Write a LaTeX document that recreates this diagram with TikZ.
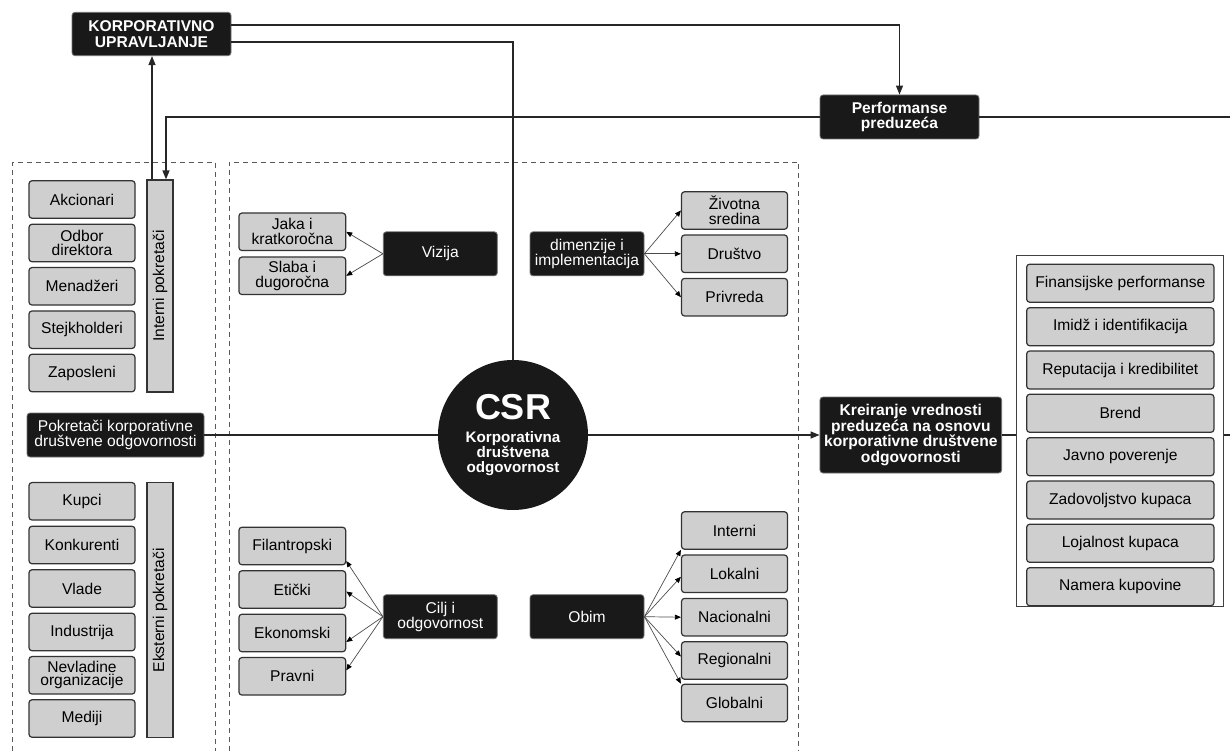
\documentclass[tikz,border=0pt]{standalone}
\usepackage{fontspec}
\usepackage{graphicx}
\setmainfont{Liberation Sans}
\usetikzlibrary{arrows.meta}

\begin{document}
\begin{tikzpicture}[
  x=1pt, y=-1pt,
  font=\fontsize{15.6}{14.8}\selectfont,
  gry/.style={rectangle, rounded corners=3pt, draw=black!80, line width=1.2pt, fill=black!19,
              minimum width=106pt, minimum height=37.5pt, inner sep=0pt, align=center},
  blk/.style={rectangle, rounded corners=3pt, draw=black!55, line width=0.8pt, fill=black!90,
              text=white, minimum width=114pt, minimum height=44pt, inner sep=0pt, align=center},
  hdr/.style={blk, font=\bfseries\fontsize{15.6}{15.7}\selectfont},
  bar/.style={rectangle, draw=black!80, line width=1.2pt, fill=black!19, minimum width=26pt, inner sep=0pt},
  grp/.style={draw=black!65, line width=0.8pt, dash pattern=on 5pt off 4pt},
  con/.style={draw=black!85, line width=1.3pt},
  arr/.style={con, -{Triangle[length=9pt,width=7pt]}},
  brn/.style={draw=black!70, line width=0.7pt, -{Triangle[length=6pt,width=5pt,color=black]}}
]
\useasboundingbox (0,0) rectangle (1230,751);

\draw[grp] (12.7,751) -- (12.7,162) -- (215,162) -- (215,751);
\draw[grp] (229,751) -- (229,162) -- (798.5,162) -- (798.5,751);

\node[hdr, minimum width=159pt, minimum height=43.4pt] (ku) at (151.5,34) {KORPORATIVNO\\UPRAVLJANJE};
\node[hdr, minimum width=159pt] (perf) at (899.5,117) {Performanse\\preduzeća};
\coordinate (edgeT) at (1230,117);
\coordinate (edgeR) at (1230,435);

% pokretaci
\node[bar, minimum height=212pt] (intp) at (160,286) {\rotatebox{90}{Interni pokretači}};
\node[bar, minimum height=255pt] (extp) at (160,610.3) {\rotatebox{90}{Eksterni pokretači}};
\node[gry] (akc) at (82,199.5) {Akcionari};
\node[gry] (odb) at (82,243) {Odbor\\direktora};
\node[gry] (men) at (82,286.3) {Menadžeri};
\node[gry] (stk) at (82,329.7) {Stejkholderi};
\node[gry] (zap) at (82,373) {Zaposleni};
\node[blk, minimum width=177pt] (pok) at (115.5,435) {Pokretači korporativne\\društvene odgovornosti};
\node[gry] (kup) at (82,501.3) {Kupci};
\node[gry] (kon) at (82,545) {Konkurenti};
\node[gry] (vla) at (82,588.5) {Vlade};
\node[gry] (ind) at (82,632) {Industrija};
\node[gry, font=\fontsize{15.6}{13.2}\selectfont] (nvo) at (82,675.3) {Nevladine\\organizacije};
\node[gry] (med) at (82,718.5) {Mediji};

% CSR
\node[circle, fill=black!90, minimum size=150pt, inner sep=0pt, text=white, align=center,
      font=\bfseries\fontsize{15.2}{14.5}\selectfont] (csr) at (513,435)
      {{\fontsize{36}{36}\selectfont CSR}\\[8pt]Korporativna\\društvena\\odgovornost};
\node[blk] (viz) at (440.3,253.8) {Vizija};
\node[gry, minimum width=106.7pt] (jak) at (292.3,231.8) {Jaka i\\kratkoročna};
\node[gry, minimum width=106.7pt] (sla) at (292.3,275.8) {Slaba i\\dugoročna};
\node[blk] (dim) at (587,253.8) {dimenzije i\\implementacija};
\node[gry] (ziv) at (734.5,210.5) {Životna\\sredina};
\node[gry] (dru) at (734.5,253.8) {Društvo};
\node[gry] (pri) at (734.5,297.2) {Privreda};
\node[blk] (cilj) at (440.3,616.7) {Cilj i\\odgovornost};
\node[gry, minimum width=106.7pt] (fil) at (292.3,546) {Filantropski};
\node[gry, minimum width=106.7pt] (eti) at (292.3,589.5) {Etički};
\node[gry, minimum width=106.7pt] (eko) at (292.3,633) {Ekonomski};
\node[gry, minimum width=106.7pt] (pra) at (292.3,676.3) {Pravni};
\node[blk] (obim) at (587,616.7) {Obim};
\node[gry] (inr) at (734.5,530.5) {Interni};
\node[gry] (lok) at (734.5,573.8) {Lokalni};
\node[gry] (nac) at (734.5,617.2) {Nacionalni};
\node[gry] (reg) at (734.5,660.5) {Regionalni};
\node[gry] (glo) at (734.5,703) {Globalni};

% vrednost
\node[hdr, minimum width=181.7pt, minimum height=76pt] (kre) at (910.8,435)
      {Kreiranje vrednosti\\preduzeća na osnovu\\korporativne društvene\\odgovornosti};
\node[draw=black!75, line width=1pt, minimum width=206.6pt, minimum height=351.7pt, inner sep=0pt] (rgrp) at (1120,430.85) {};
\node[gry, minimum width=187.3pt, minimum height=38pt] (fin) at (1120.3,283.2) {Finansijske performanse};
\node[gry, minimum width=187.3pt, minimum height=38pt] (imi) at (1120.3,326.7) {Imidž i identifikacija};
\node[gry, minimum width=187.3pt, minimum height=38pt] (rep) at (1120.3,370) {Reputacija i kredibilitet};
\node[gry, minimum width=187.3pt, minimum height=38pt] (bre) at (1120.3,413.3) {Brend};
\node[gry, minimum width=187.3pt, minimum height=38pt] (jav) at (1120.3,456.7) {Javno poverenje};
\node[gry, minimum width=187.3pt, minimum height=38pt] (zad) at (1120.3,500) {Zadovoljstvo kupaca};
\node[gry, minimum width=187.3pt, minimum height=38pt] (loj) at (1120.3,543.3) {Lojalnost kupaca};
\node[gry, minimum width=187.3pt, minimum height=38pt] (nam) at (1120.3,586.7) {Namera kupovine};

\draw[arr] ([yshift=9pt]ku.east) -| (perf.north);
\draw[con] ([yshift=-8pt]ku.east) -| (csr.north);
\draw[con] (perf.east) -- (edgeT);
\draw[arr] (perf.west) -| ([xshift=6pt]intp.north);
\draw[arr] ([xshift=-8pt]intp.north) -- ([xshift=-8pt]intp.north |- ku.south);
\draw[con] (pok.east) -- (csr.west);
\draw[arr] (csr.east) -- (kre.west);
\draw[con] (kre.east) -- (kre.east -| rgrp.west);
\draw[con] (kre.east -| rgrp.east) -- (edgeR);

\draw[brn] (viz.west) -- (jak.east);
\draw[brn] (viz.west) -- (sla.east);
\draw[brn] (dim.east) -- (ziv.west);
\draw[brn] (dim.east) -- (dru.west);
\draw[brn] (dim.east) -- (pri.west);
\draw[brn] (cilj.west) -- ([yshift=-15pt]fil.east);
\draw[brn] (cilj.west) -- ([yshift=-2pt]eti.east);
\draw[brn] (cilj.west) -- ([yshift=-9pt]eko.east);
\draw[brn] (cilj.west) -- ([yshift=6pt]pra.east);
\draw[brn] (obim.east) -- (inr.south west);
\draw[brn] (obim.east) -- ([yshift=-3pt]lok.west);
\draw[brn] (obim.east) -- (nac.west);
\draw[brn] (obim.east) -- ([yshift=4pt]reg.west);
\draw[brn] (obim.east) -- (glo.north west);
\end{tikzpicture}
\end{document}
